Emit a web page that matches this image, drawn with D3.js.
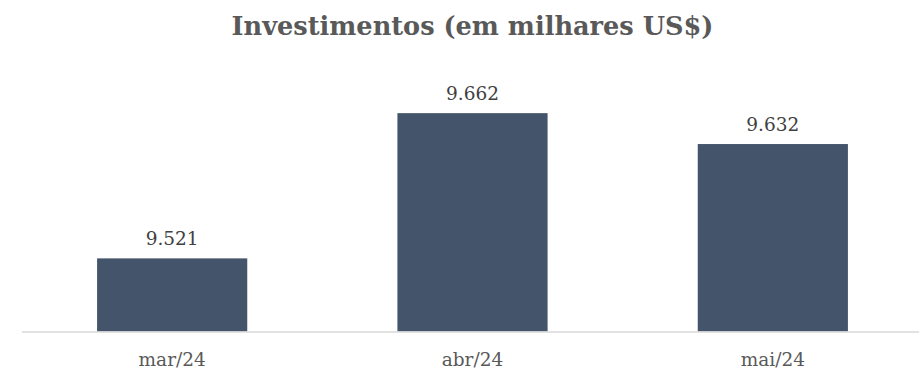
<!DOCTYPE html>
<html>
<head>
<meta charset="utf-8">
<script src="https://cdn.jsdelivr.net/npm/d3@7"></script>
<style>
  html, body { margin: 0; padding: 0; background: #fff; }
  svg { display: block; }
</style>
</head>
<body>
<svg id="chart" width="919" height="374"></svg>
<script>
// Monthly investment totals (thousands of US$)
const categories = ["mar/24", "abr/24", "mai/24"];
const values = [9.521, 9.662, 9.632];
const valueLabels = ["9.521", "9.662", "9.632"];
const title = "Investimentos (em milhares US$)";

const width = 919, height = 374;
const plot = { left: 22, right: 923, top: 74, bottom: 331.5 };
const serif = "'DejaVu Serif', 'Liberation Serif', serif";

const svg = d3.select("#chart");

const x = d3.scaleBand()
  .domain(categories)
  .range([plot.left, plot.right])
  .paddingInner(0.5)
  .paddingOuter(0.25);

const y = d3.scaleLinear()
  .domain([9.45, 9.70])
  .range([plot.bottom, plot.top]);

// Title
svg.append("text")
  .attr("x", 472.5)
  .attr("y", 35)
  .attr("text-anchor", "middle")
  .attr("font-family", serif)
  .attr("font-weight", "bold")
  .attr("font-size", 25.6)
  .attr("fill", "#595959")
  .text(title);

const data = categories.map((c, i) => ({ c, v: values[i], label: valueLabels[i] }));

// Bars
svg.append("g").selectAll("rect")
  .data(data)
  .join("rect")
  .attr("x", d => x(d.c))
  .attr("width", x.bandwidth())
  .attr("y", d => y(d.v))
  .attr("height", d => y.range()[0] - y(d.v))
  .attr("fill", "#44546A");

// Baseline
svg.append("line")
  .attr("x1", plot.left)
  .attr("x2", 919)
  .attr("y1", plot.bottom + 0.5)
  .attr("y2", plot.bottom + 0.5)
  .attr("stroke", "#d9d9d9")
  .attr("stroke-width", 1.5);

// Value labels
svg.append("g").selectAll("text")
  .data(data)
  .join("text")
  .attr("x", d => x(d.c) + x.bandwidth() / 2)
  .attr("y", d => y(d.v) - 13)
  .attr("text-anchor", "middle")
  .attr("font-family", serif)
  .attr("font-size", 18.5)
  .attr("fill", "#404040")
  .text(d => d.label);

// Category axis labels
svg.append("g").selectAll("text")
  .data(categories)
  .join("text")
  .attr("x", d => x(d) + x.bandwidth() / 2)
  .attr("y", 366)
  .attr("text-anchor", "middle")
  .attr("font-family", serif)
  .attr("font-size", 18.5)
  .attr("fill", "#595959")
  .text(d => d);
</script>
</body>
</html>
